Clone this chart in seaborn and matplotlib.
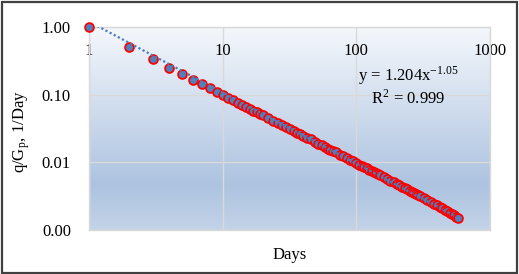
import numpy as np
import pandas as pd
import matplotlib
matplotlib.use('Agg')
import matplotlib.pyplot as plt
from matplotlib.colors import LinearSegmentedColormap
from matplotlib.patches import Rectangle
import seaborn as sns

# Days and normalised rate q/Gp
days = [1, 2, 3, 4, 5, 6, 7, 8, 9, 10, 11, 12, 13, 14, 15, 16, 17, 18, 19, 20,
        22, 24, 26, 28, 30, 32, 34, 36, 38, 40,
        43, 46, 49, 52, 55, 58, 61, 64, 67, 70,
        75, 80, 85, 90, 95, 100, 105, 110, 115, 120, 125, 130, 135, 140, 145, 150,
        160, 170, 180, 190, 200, 210, 220, 230, 240, 250, 260, 270, 280, 290, 300,
        320, 340, 360, 380, 400, 420, 440, 460, 480, 500, 520, 540, 560, 577]
q_gp = [1.000, 0.502, 0.334, 0.251, 0.200, 0.166, 0.142, 0.124, 0.110, 0.0990,
        0.0900, 0.0824, 0.0760, 0.0706, 0.0658, 0.0617, 0.0580, 0.0548, 0.0519, 0.0493,
        0.0448, 0.0410, 0.0379, 0.0352, 0.0328, 0.0308, 0.0290, 0.0274, 0.0259, 0.0246,
        0.0229, 0.0220, 0.0201, 0.0189, 0.0178, 0.0169, 0.0160, 0.0153, 0.0146, 0.0140,
        0.0130, 0.0122, 0.0115, 0.0108, 0.0103, 0.00975, 0.00928, 0.00886, 0.00847,
        0.00812, 0.00779, 0.00750, 0.00722, 0.00697, 0.00672, 0.00650,
        0.00600, 0.00565, 0.00533, 0.00505, 0.00480, 0.00457, 0.00436, 0.00417,
        0.00399, 0.00383, 0.00368, 0.00354, 0.00341, 0.00329, 0.00318,
        0.00296, 0.00277, 0.00261, 0.00246, 0.00233, 0.00221, 0.00210, 0.00199,
        0.00190, 0.00181, 0.00173, 0.00165, 0.00158, 0.00152]

# Power-law trend from the chart label
fit_a = 1.204
fit_b = -1.05
x_ticks = [1, 10, 100, 1000]
y_ticks = [0.001, 0.01, 0.1, 1]
y_ticklabels = ['0.00', '0.01', '0.10', '1.00']

df = pd.DataFrame({'Days': days, 'qGp': q_gp})

sns.set_style('white')
plt.rcParams['font.family'] = ['Liberation Serif', 'DejaVu Serif']
plt.rcParams['mathtext.fontset'] = 'stix'
plt.rcParams['text.color'] = 'black'
plt.rcParams['xtick.color'] = 'black'
plt.rcParams['ytick.color'] = 'black'

fig = plt.figure(figsize=(5.19, 2.74), dpi=100)
ax = fig.add_axes([89 / 519, 1 - 230 / 274, 401 / 519, 203 / 274])

# gradient background of the plot area
grad = LinearSegmentedColormap.from_list(
    'bg', [(0, '#f5f8fc'), (0.78, '#adc3e0'), (1, '#c3d3e8')])
ax.imshow(np.linspace(0, 1, 256).reshape(-1, 1), cmap=grad, aspect='auto',
          extent=[0, 1, 0, 1], transform=ax.transAxes, zorder=0)

ax.set_xscale('log')
ax.set_yscale('log')
ax.set_xlim(1, 1000)
ax.set_ylim(0.001, 1)

ax.grid(True, which='major', color='#d9d9d9', linewidth=1, zorder=1)

sns.scatterplot(data=df, x='Days', y='qGp', ax=ax, s=40, color='#4f81bd',
                edgecolor='red', linewidth=1.3, zorder=3, clip_on=False)

xfit = np.array([1, days[-1]])
ax.plot(xfit, fit_a * xfit ** fit_b, linestyle=(0, (1, 1.1)), color='#4a7ebb',
        linewidth=1.6, zorder=4)

ax.set_xticks(x_ticks)
ax.set_xticklabels([str(t) for t in x_ticks])
ax.set_yticks(y_ticks)
ax.set_yticklabels(y_ticklabels)
ax.minorticks_off()
ax.tick_params(axis='x', top=False, labeltop=True, bottom=False, labelbottom=False,
               length=0, pad=-23, labelsize=12)
ax.tick_params(axis='y', length=0, pad=13, labelsize=12)

for sp in ax.spines.values():
    sp.set_color('#d9d9d9')
    sp.set_linewidth(1)

ax.set_xlabel('')
ax.set_ylabel('')
fig.text(290 / 519, 1 - 255 / 274, 'Days', ha='center', va='center', fontsize=12)
fig.text(22 / 519, 1 - 132 / 274, r'q/G$_\mathregular{p}$, 1/Day', rotation=90,
         ha='center', va='center', fontsize=12)

# trendline equation as one two-line label
ax.text(408 / 519, 1 - 86 / 274,
        'y = 1.204x$^\\mathregular{-1.05}$\nR$^\\mathregular{2}$ = 0.999',
        transform=fig.transFigure, ha='center', va='center', fontsize=12,
        multialignment='center', linespacing=1.15)

# outer chart border
fig.patches.append(Rectangle((1.5 / 519, 1.5 / 274), 515.5 / 519, 271 / 274,
                             transform=fig.transFigure, fill=False,
                             edgecolor='#404040', linewidth=1.6))

fig.savefig('out.png', dpi=100)
